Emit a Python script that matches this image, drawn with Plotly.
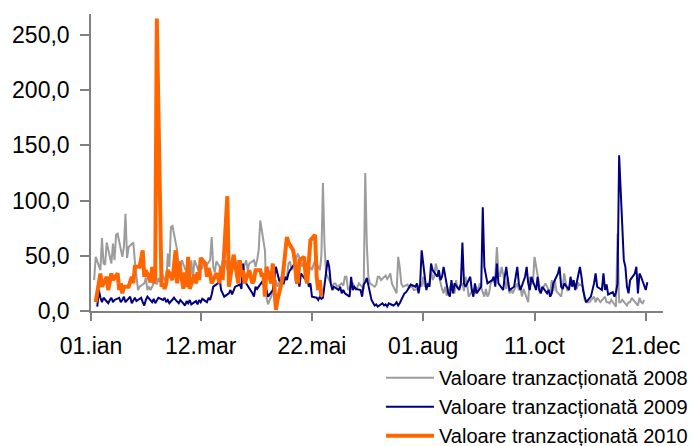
import pandas as pd
import plotly.graph_objects as go

# Valoare tranzacționată (mil.), câte o valoare pe zi de tranzacționare
val_2008 = [
    28, 49, 37, 66, 43, 42, 62, 43, 61, 46, 69, 70, 49, 58, 88,
    48, 58, 62, 45, 31, 19, 22, 25, 30, 19, 22, 19, 28, 24, 30,
    26, 35, 25, 52, 40, 76, 77, 55, 40, 37, 46, 42, 30, 28, 46,
    28, 46, 35, 40, 38, 46, 40, 46, 67, 40, 35, 45, 38, 46, 40,
    46, 37, 46, 40, 46, 40, 46, 37, 42, 46, 37, 43, 46, 40, 46,
    55, 82, 55, 12, 6, 10, 13, 28, 22, 26, 31, 27, 30, 43, 45,
    37, 40, 52, 48, 46, 40, 46, 37, 40, 37, 42, 46, 37, 50, 116,
    60, 34, 25, 22, 25, 25, 22, 25, 23, 31, 31, 19, 25, 22, 19,
    22, 25, 20, 125, 60, 31, 25, 22, 24, 31, 31, 28, 32, 29, 31,
    34, 25, 16, 49, 40, 25, 22, 24, 21, 22, 22, 19, 20, 25, 22,
    31, 22, 26, 37, 28, 31, 43, 25, 20, 16, 22, 14, 25, 18, 16,
    28, 20, 25, 18, 31, 25, 13, 20, 16, 22, 18, 25, 13, 20, 13,
    16, 25, 31, 58, 35, 31, 40, 20, 31, 16, 20, 16, 25, 19, 22,
    13, 20, 8, 31, 25, 25, 49, 25, 16, 20, 22, 25, 16, 28, 18,
    28, 18, 13, 22, 34, 25, 18, 28, 22, 25, 20, 25, 22, 10, 8,
    8, 8, 13, 8, 12, 10, 8, 13, 8, 8, 7, 10, 4, 70, 8,
    8, 10, 5, 8, 8, 12, 10, 5, 12, 8, 7, 10,
]

val_2009 = [
    4, 19, 12, 8, 12, 7, 10, 12, 8, 10, 12, 8, 10, 13, 8,
    13, 7, 10, 12, 9, 12, 8, 5, 10, 13, 8, 11, 7, 10, 12,
    10, 12, 8, 10, 7, 12, 10, 8, 7, 10, 5, 9, 7, 10, 6,
    9, 6, 10, 8, 11, 8, 12, 10, 15, 22, 25, 31, 19, 16, 13,
    16, 19, 15, 19, 22, 24, 20, 43, 31, 25, 19, 16, 13, 22, 20,
    26, 24, 26, 19, 13, 19, 31, 40, 34, 28, 25, 31, 28, 34, 37,
    43, 25, 31, 22, 34, 28, 31, 22, 25, 13, 12, 10, 13, 11, 12,
    46, 40, 25, 19, 22, 19, 22, 16, 19, 16, 13, 31, 19, 22, 20,
    19, 13, 24, 26, 30, 10, 7, 5, 6, 4, 7, 5, 6, 4, 7,
    5, 6, 8, 5, 7, 16, 17, 19, 22, 24, 22, 25, 16, 24, 55,
    19, 25, 22, 43, 37, 31, 37, 28, 31, 40, 16, 13, 28, 16, 25,
    19, 25, 62, 25, 22, 31, 19, 13, 25, 16, 22, 94, 40, 31, 25,
    28, 31, 22, 43, 25, 19, 31, 40, 28, 19, 22, 31, 40, 25, 19,
    31, 40, 25, 19, 31, 19, 31, 19, 16, 22, 16, 19, 13, 16, 25,
    34, 40, 22, 20, 25, 19, 31, 22, 28, 19, 40, 31, 19, 13, 8,
    13, 19, 25, 34, 22, 19, 34, 19, 24, 15, 17, 13, 17, 25, 141,
    46, 40, 22, 16, 28, 34, 40, 16, 34, 31, 19, 26,
]

val_2010 = [
    8, 16, 25, 34, 22, 31, 19, 28, 34, 28, 34, 19, 25, 16, 22,
    22, 26, 31, 25, 40, 40, 46, 55, 31, 37, 26, 40, 25, 30, 265,
    22, 25, 20, 25, 37, 28, 40, 55, 25, 45, 20, 35, 22, 49, 20,
    33, 25, 35, 28, 48, 43, 31, 39, 34, 25, 34, 31, 25, 40, 28,
    104, 22, 31, 40, 51, 25, 46, 31, 37, 25, 37, 31, 25, 28, 37,
    37, 31, 34, 13, 40, 25, 43, 13, 1, 10, 28, 40, 55, 67, 62,
    55, 46, 28, 25, 46, 49, 31, 25, 43, 64, 69, 31, 19, 28, 13,
]

SERIES = [
    ("Valoare tranzacționată 2008", "2008-01-03", val_2008, "#9c9c9c", 2),
    ("Valoare tranzacționată 2009", "2009-01-05", val_2009, "#000080", 2),
    ("Valoare tranzacționată 2010", "2010-01-04", val_2010, "#ff6600", 4),
]

TICK_DATES = ["2010-01-01", "2010-03-12", "2010-05-22", "2010-08-01", "2010-10-11", "2010-12-21"]
TICK_TEXT = ["01.ian", "12.mar", "22.mai", "01.aug", "11.oct", "21.dec"]

FONT = "Arial, Liberation Sans, sans-serif"
BASE = pd.Timestamp("2010-01-01")

fig = go.Figure()
for name, start, vals, color, width in SERIES:
    zile = pd.bdate_range(start, periods=len(vals))
    an = pd.Timestamp(f"{zile[0].year}-01-01")
    x = [BASE + (d - an) for d in zile]   # toți anii pe aceeași axă
    fig.add_trace(go.Scatter(
        x=x, y=vals, mode="lines", name=name,
        line=dict(color=color, width=width),
    ))

fig.update_layout(
    width=693, height=446,
    margin=dict(l=91, r=30, t=14, b=135, autoexpand=False),
    paper_bgcolor="white", plot_bgcolor="white",
    separators=",.",
    font=dict(family=FONT, size=23, color="black"),
    showlegend=True,
    legend=dict(
        x=1, xref="container", xanchor="right",
        y=0.197, yref="container", yanchor="top",
        font=dict(size=20), bgcolor="rgba(0,0,0,0)",
        itemwidth=48, tracegroupgap=0,
    ),
)
fig.update_xaxes(
    type="date", range=["2010-01-01", "2011-01-01"],
    tickvals=TICK_DATES, ticktext=TICK_TEXT, tickangle=0,
    showgrid=False, zeroline=False,
    showline=True, linecolor="#808080", linewidth=1.5,
    ticks="outside", ticklen=8, tickcolor="#808080", tickwidth=1.5,
    ticklabelstandoff=6,
)
fig.update_yaxes(
    range=[0, 269], tickvals=[0, 50, 100, 150, 200, 250], tickformat=".1f",
    showgrid=False, zeroline=False,
    showline=True, linecolor="#808080", linewidth=1.5,
    ticks="outside", ticklen=9, tickcolor="#808080", tickwidth=1.5,
    ticklabelstandoff=6,
)

# fără marginea implicită a paginii
fig.write_html(
    "out.html",
    config={"displayModeBar": False},
    post_script="document.body.style.margin='0';",
)
